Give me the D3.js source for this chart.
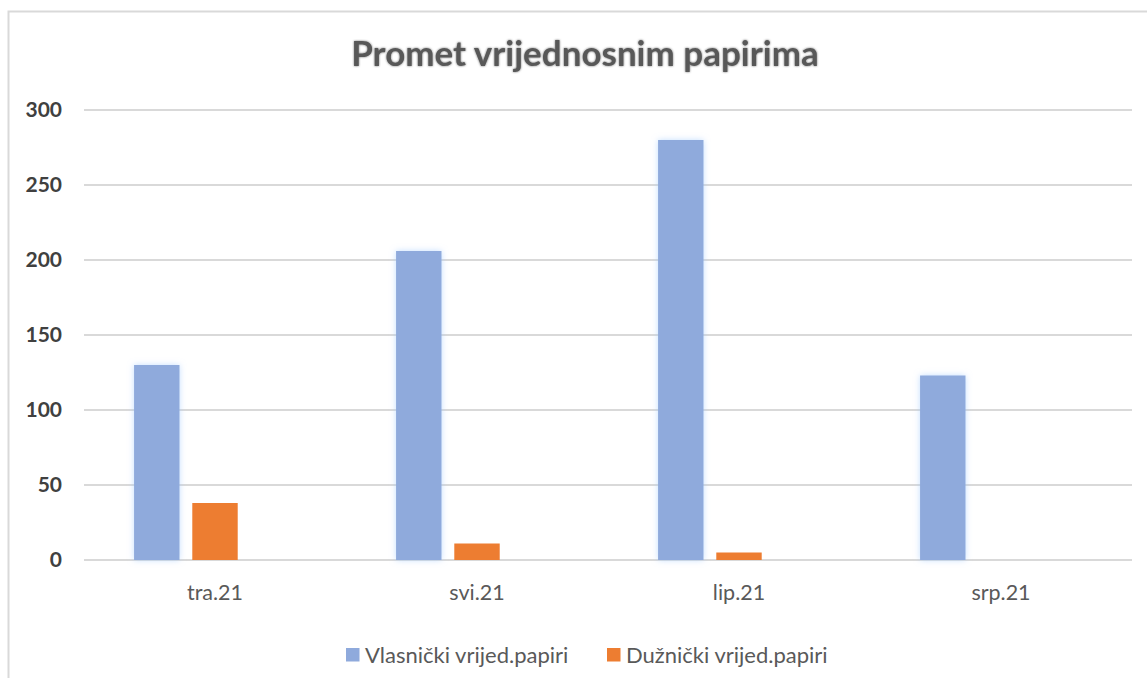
<!DOCTYPE html>
<html>
<head>
<meta charset="utf-8">
<style>
  body { margin: 0; background: #fff; }
  svg text { font-family: Lato, "Open Sans", sans-serif; }
</style>
</head>
<body>
<svg id="chart" width="1147" height="678"></svg>
<script src="https://cdn.jsdelivr.net/npm/d3@7"></script>
<script>
    const categories = ["tra.21", "svi.21", "lip.21", "srp.21"];
    const seriesNames = ["Vlasnički vrijed.papiri", "Dužnički vrijed.papiri"];
    const vlasnicki = [130, 206, 280, 123];
    const duznicki = [38, 11, 5, 0];
    const yTicks = [0, 50, 100, 150, 200, 250, 300];
    const colors = ["#8FAADC", "#ED7D31"];

    const svg = d3.select("#chart");
    const plotLeft = 84, plotRight = 1132, plotTop = 110, plotBottom = 560;

    // chart area border (left and top only are visible)
    svg.append("rect")
        .attr("x", 8.5).attr("y", 11.5)
        .attr("width", 1200).attr("height", 800)
        .attr("fill", "none")
        .attr("stroke", "#d9d9d9")
        .attr("stroke-width", 2);

    const defs = svg.append("defs");
    const glow = defs.append("filter").attr("id", "glow")
        .attr("x", "-30%").attr("y", "-5%").attr("width", "160%").attr("height", "110%");
    glow.append("feDropShadow")
        .attr("dx", 0).attr("dy", 0).attr("stdDeviation", 3)
        .attr("flood-color", "#9cc7ff").attr("flood-opacity", 0.6);
    const tshadow = defs.append("filter").attr("id", "tshadow");
    tshadow.append("feDropShadow")
        .attr("dx", 0).attr("dy", 0).attr("stdDeviation", 1.2)
        .attr("flood-color", "#000").attr("flood-opacity", 0.55);

    const y = d3.scaleLinear().domain([0, 300]).range([plotBottom, plotTop]);
    const x0 = d3.scaleBand().domain(categories).range([plotLeft, plotRight]);
    // three slots per category, the third one is empty in the source chart
    const x1 = d3.scaleBand().domain([0, 1, 2]).range([0, x0.bandwidth()])
        .paddingInner(0.22).paddingOuter(0.86);

    // gridlines
    svg.append("g")
        .selectAll("line")
        .data(yTicks)
        .join("line")
        .attr("x1", plotLeft).attr("x2", plotRight)
        .attr("y1", d => y(d)).attr("y2", d => y(d))
        .attr("stroke", "#d9d9d9")
        .attr("stroke-width", 2);

    // y labels
    svg.append("g")
        .selectAll("text")
        .data(yTicks)
        .join("text")
        .attr("x", 62)
        .attr("y", d => y(d))
        .attr("dy", "0.35em")
        .attr("text-anchor", "end")
        .attr("font-size", 21)
        .attr("font-weight", "bold")
        .attr("fill", "#404040")
        .text(d => d);

    // bars
    const values = [vlasnicki, duznicki];
    values.forEach(function(vals, s) {
        svg.append("g")
            .selectAll("rect")
            .data(vals)
            .join("rect")
            .attr("x", (d, i) => x0(categories[i]) + x1(s))
            .attr("width", x1.bandwidth())
            .attr("y", d => y(d))
            .attr("height", d => y(0) - y(d))
            .attr("fill", colors[s])
            .attr("filter", s === 0 ? "url(#glow)" : null);
    });

    // category labels
    svg.append("g")
        .selectAll("text")
        .data(categories)
        .join("text")
        .attr("x", d => x0(d) + x0.bandwidth() / 2)
        .attr("y", 600)
        .attr("text-anchor", "middle")
        .attr("font-size", 21.5)
        .attr("fill", "#595959")
        .text(d => d);

    // title
    svg.append("text")
        .attr("x", 585)
        .attr("y", 66)
        .attr("text-anchor", "middle")
        .attr("font-size", 35)
        .attr("font-weight", "bold")
        .attr("fill", "#595959")
        .attr("filter", "url(#tshadow)")
        .text("Promet vrijednosnim papirima");

    // legend
    const legX = [346, 607];
    const leg = svg.append("g")
        .selectAll("g")
        .data(seriesNames)
        .join("g")
        .attr("transform", (d, i) => `translate(${legX[i]},648)`);
    leg.append("rect")
        .attr("width", 13.5).attr("height", 13.5)
        .attr("fill", (d, i) => colors[i]);
    leg.append("text")
        .attr("x", 19).attr("y", 7)
        .attr("dy", "0.35em")
        .attr("font-size", 22)
        .attr("fill", "#595959")
        .text(d => d);
</script>
</body>
</html>
